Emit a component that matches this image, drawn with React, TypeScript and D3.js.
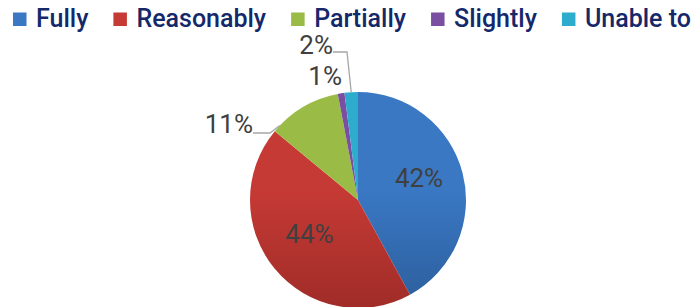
import React, { useEffect, useRef } from 'react';
import * as d3 from 'd3';

const categories = ['Fully', 'Reasonably', 'Partially', 'Slightly', 'Unable to'];
const values = [42, 44, 11, 1, 2];
const labels = ['42%', '44%', '11%', '1%', '2%'];
const colors = ['#3a78c4', '#c63a35', '#9bbb47', '#7a4fa2', '#2eaccd'];
const darkColors = ['#2c5e9c', '#a02c28', '#7f9b34', '#5f3a82', '#2189a6'];

const PieChart = () => {
  const svgRef = useRef<SVGSVGElement>(null);

  useEffect(() => {
    const width = 696;
    const height = 307;
    const cx = 358;
    const cy = 200;
    const radius = 108;

    const svg = d3.select(svgRef.current).attr('width', width).attr('height', height);
    svg.selectAll('*').remove();

    const defs = svg.append('defs');
    colors.forEach((c, i) => {
      const g = defs
        .append('linearGradient')
        .attr('id', `grad${i}`)
        .attr('gradientUnits', 'userSpaceOnUse')
        .attr('x1', 0)
        .attr('y1', -radius)
        .attr('x2', 0)
        .attr('y2', radius);
      g.append('stop').attr('offset', '0%').attr('stop-color', c);
      g.append('stop').attr('offset', '45%').attr('stop-color', c);
      g.append('stop').attr('offset', '100%').attr('stop-color', darkColors[i]);
    });

    // Legend
    const legend = svg
      .append('g')
      .attr('font-family', 'Roboto, sans-serif')
      .attr('font-size', 25)
      .attr('font-weight', 500);
    let x = 13;
    categories.forEach((name, i) => {
      legend
        .append('rect')
        .attr('x', x)
        .attr('y', 12.5)
        .attr('width', 13.5)
        .attr('height', 13.5)
        .attr('fill', colors[i]);
      const t = legend
        .append('text')
        .attr('x', x + 23)
        .attr('y', 27)
        .attr('fill', '#15286a')
        .text(name);
      const w = (t.node() as SVGTextElement).getComputedTextLength();
      x = x + 23 + w + 25;
    });

    // Pie
    const pie = d3
      .pie<number>()
      .sort(null)
      .value((d) => d);
    const arcs = pie(values);
    const arc = d3.arc<d3.PieArcDatum<number>>().innerRadius(0).outerRadius(radius);
    const labelArc = d3.arc<d3.PieArcDatum<number>>().innerRadius(63).outerRadius(63);

    const g = svg.append('g').attr('transform', `translate(${cx},${cy})`);
    g.selectAll('path.slice')
      .data(arcs)
      .enter()
      .append('path')
      .attr('class', 'slice')
      .attr('d', arc)
      .attr('fill', (d, i) => `url(#grad${i})`);

    const labelText = g
      .append('g')
      .attr('font-family', 'Roboto, sans-serif')
      .attr('font-size', 26)
      .attr('fill', '#404040');

    // inside labels
    [0, 1].forEach((i) => {
      const [lx, ly] = labelArc.centroid(arcs[i]);
      labelText
        .append('text')
        .attr('x', lx)
        .attr('y', ly - 6)
        .attr('text-anchor', 'middle')
        .attr('dominant-baseline', 'central')
        .text(labels[i]);
    });

    const edge = (a: number, r: number) => [r * Math.sin(a), -r * Math.cos(a)];

    // 11% with leader
    {
      const a = arcs[2];
      const p = edge(a.startAngle + (a.endAngle - a.startAngle) * 0.1, radius);
      const lx = -105;
      const ly = -67;
      g.append('polyline')
        .attr('points', `${lx},${ly} ${lx + 17},${ly} ${p[0]},${p[1]}`)
        .attr('fill', 'none')
        .attr('stroke', '#a6a6a6')
        .attr('stroke-width', 1.3);
      labelText.append('text').attr('x', lx).attr('y', ly).attr('text-anchor', 'end').text(labels[2]);
    }

    // 1%
    {
      const a = arcs[3];
      const p = edge((a.startAngle + a.endAngle) / 2, radius);
      labelText
        .append('text')
        .attr('x', p[0] - 16)
        .attr('y', p[1] - 8)
        .attr('text-anchor', 'middle')
        .text(labels[3]);
    }

    // 2% with leader
    {
      const a = arcs[4];
      const p = edge((a.startAngle + a.endAngle) / 2, radius);
      const lx = -25;
      const ly = -148;
      g.append('polyline')
        .attr('points', `${lx},${ly} ${lx + 14},${ly} ${p[0]},${p[1]}`)
        .attr('fill', 'none')
        .attr('stroke', '#a6a6a6')
        .attr('stroke-width', 1.3);
      labelText.append('text').attr('x', lx).attr('y', ly + 2).attr('text-anchor', 'end').text(labels[4]);
    }
  }, []);

  return <svg ref={svgRef} style={{ position: 'absolute', left: 0, top: 0 }}></svg>;
};

export default function App() {
  return <PieChart />;
}
